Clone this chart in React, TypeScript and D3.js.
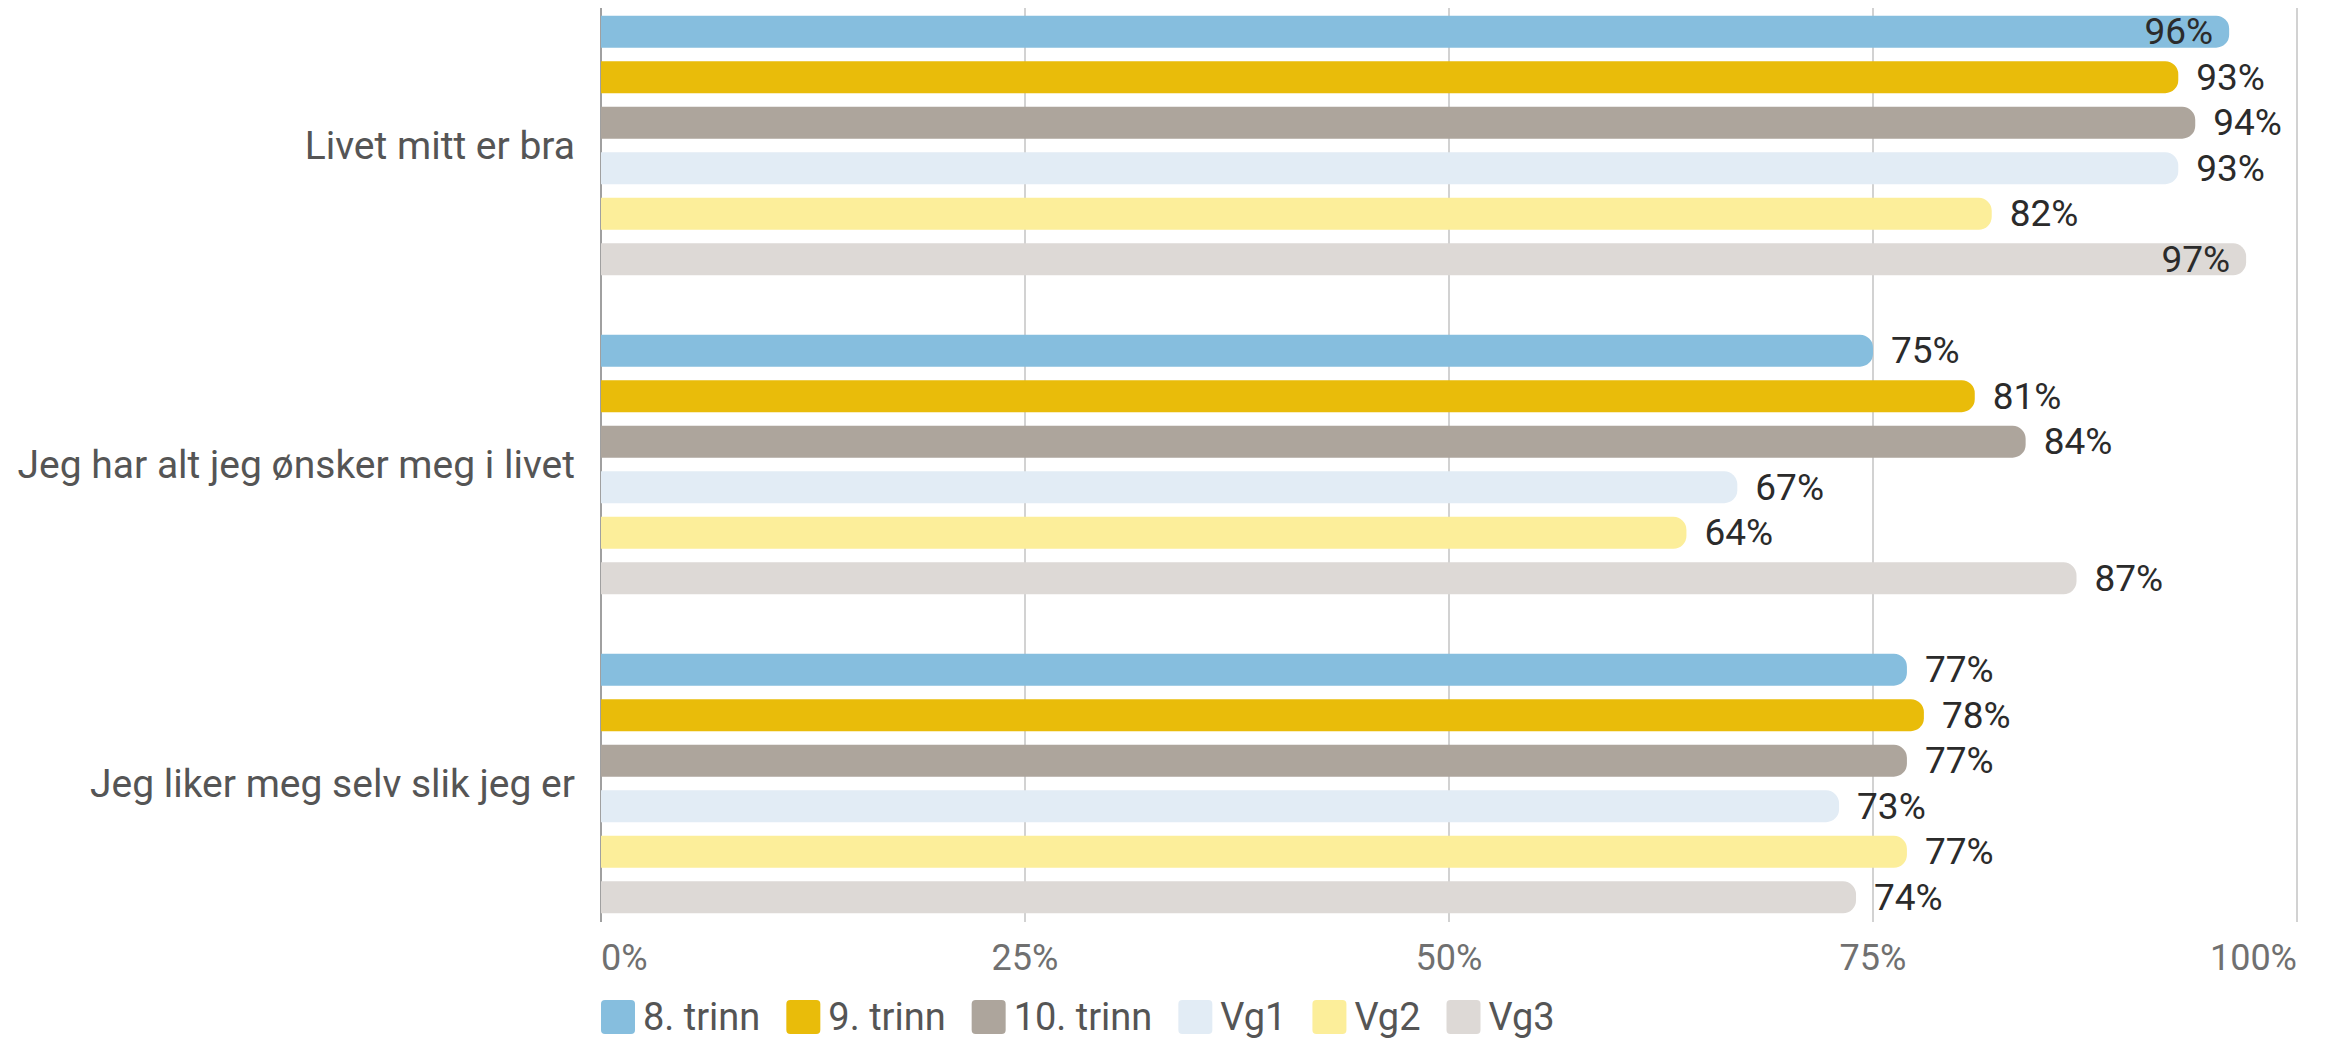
import React, { useRef, useEffect } from 'react';
import * as d3 from 'd3';

// chart data
const categories = [
  'Livet mitt er bra',
  'Jeg har alt jeg ønsker meg i livet',
  'Jeg liker meg selv slik jeg er',
];
const seriesNames = ['8. trinn', '9. trinn', '10. trinn', 'Vg1', 'Vg2', 'Vg3'];
const trinn8 = [96, 75, 77];
const trinn9 = [93, 81, 78];
const trinn10 = [94, 84, 77];
const vg1 = [93, 67, 73];
const vg2 = [82, 64, 77];
const vg3 = [97, 87, 74];
const tickValues = [0, 25, 50, 75, 100];

const seriesValues = [trinn8, trinn9, trinn10, vg1, vg2, vg3];
const colors = ['#86bede', '#e9bc0a', '#ada59c', '#e2ecf5', '#fcee9a', '#ddd9d6'];

const W = 2328;
const H = 1039;
const FONT = 'Roboto, "Noto Sans", sans-serif';

// bar with flat left end and rounded right end
function barPath(x0: number, x1: number, y: number, h: number, r: number) {
  const rr = Math.min(r, (x1 - x0) / 2, h / 2);
  return `M${x0},${y}H${x1 - rr}A${rr},${rr} 0 0 1 ${x1},${y + rr}V${y + h - rr}A${rr},${rr} 0 0 1 ${x1 - rr},${y + h}H${x0}Z`;
}

const App: React.FC = () => {
  const svgRef = useRef<SVGSVGElement>(null);

  useEffect(() => {
    if (!svgRef.current) return;
    const svg = d3.select(svgRef.current);
    svg.selectAll('*').remove();

    const x = d3.scaleLinear().domain([0, 100]).range([601, 2297]);
    const y0 = d3.scaleBand<string>().domain(categories).range([-14, 943]);
    const y1 = d3.scaleBand<string>()
      .domain(seriesNames)
      .range([0, y0.bandwidth()])
      .paddingInner(0.3)
      .paddingOuter(0.655);

    const plotTop = 8;
    const plotBottom = 922;

    // gridlines
    svg.append('g')
      .selectAll('line')
      .data(tickValues)
      .join('line')
      .attr('x1', d => x(d))
      .attr('x2', d => x(d))
      .attr('y1', plotTop)
      .attr('y2', plotBottom)
      .attr('stroke', d => (d === 0 ? '#a0a0a0' : '#d2d2d2'))
      .attr('stroke-width', 2);

    // x tick labels
    svg.append('g')
      .selectAll('text')
      .data(tickValues)
      .join('text')
      .attr('x', d => x(d))
      .attr('y', 958)
      .attr('dominant-baseline', 'central')
      .attr('text-anchor', (d, i) => (i === 0 ? 'start' : i === tickValues.length - 1 ? 'end' : 'middle'))
      .attr('font-family', FONT)
      .attr('font-size', 36)
      .attr('fill', '#707070')
      .text(d => `${d}%`);

    // category labels
    svg.append('g')
      .selectAll('text')
      .data(categories)
      .join('text')
      .attr('x', x(0) - 26)
      .attr('y', d => (y0(d) || 0) + y0.bandwidth() / 2)
      .attr('dominant-baseline', 'central')
      .attr('text-anchor', 'end')
      .attr('font-family', FONT)
      .attr('font-size', 39)
      .attr('fill', '#555555')
      .text(d => d);

    // bars + value labels
    const bh = y1.bandwidth();
    seriesNames.forEach((s, si) => {
      const g = svg.append('g');
      const rows = categories.map((c, ci) => ({ c, v: seriesValues[si][ci] }));
      g.selectAll('path')
        .data(rows)
        .join('path')
        .attr('d', d => barPath(x(0), x(d.v), (y0(d.c) || 0) + (y1(s) || 0), bh, 13))
        .attr('fill', colors[si]);

      g.selectAll('text')
        .data(rows)
        .join('text')
        .attr('y', d => (y0(d.c) || 0) + (y1(s) || 0) + bh / 2)
        .attr('dominant-baseline', 'central')
        .attr('font-family', FONT)
        .attr('font-size', 37)
        .attr('fill', '#2b2b2b')
        .text(d => `${d.v}%`)
        .each(function (d) {
          const t = d3.select(this);
          const w = (this as SVGTextElement).getComputedTextLength();
          const outside = x(d.v) + 18;
          if (outside + w > x(100)) {
            t.attr('x', x(d.v) - 16).attr('text-anchor', 'end');
          } else {
            t.attr('x', outside).attr('text-anchor', 'start');
          }
        });
    });

    // legend
    const legend = svg.append('g').attr('transform', `translate(${x(0)},1017)`);
    let cx = 0;
    seriesNames.forEach((s, si) => {
      const item = legend.append('g').attr('transform', `translate(${cx},0)`);
      item.append('rect')
        .attr('x', 0)
        .attr('y', -17)
        .attr('width', 34)
        .attr('height', 34)
        .attr('rx', 4)
        .attr('fill', colors[si]);
      const txt = item.append('text')
        .attr('x', 42)
        .attr('y', 0)
        .attr('dominant-baseline', 'central')
        .attr('font-family', FONT)
        .attr('font-size', 38)
        .attr('fill', '#555555')
        .text(s);
      const w = (txt.node() as SVGTextElement).getComputedTextLength();
      cx += 42 + w + 26;
    });
  }, []);

  return (
    <svg
      ref={svgRef}
      width={W}
      height={H}
      style={{ position: 'absolute', left: 0, top: 0, background: '#fff' }}
    ></svg>
  );
};

export default App;
